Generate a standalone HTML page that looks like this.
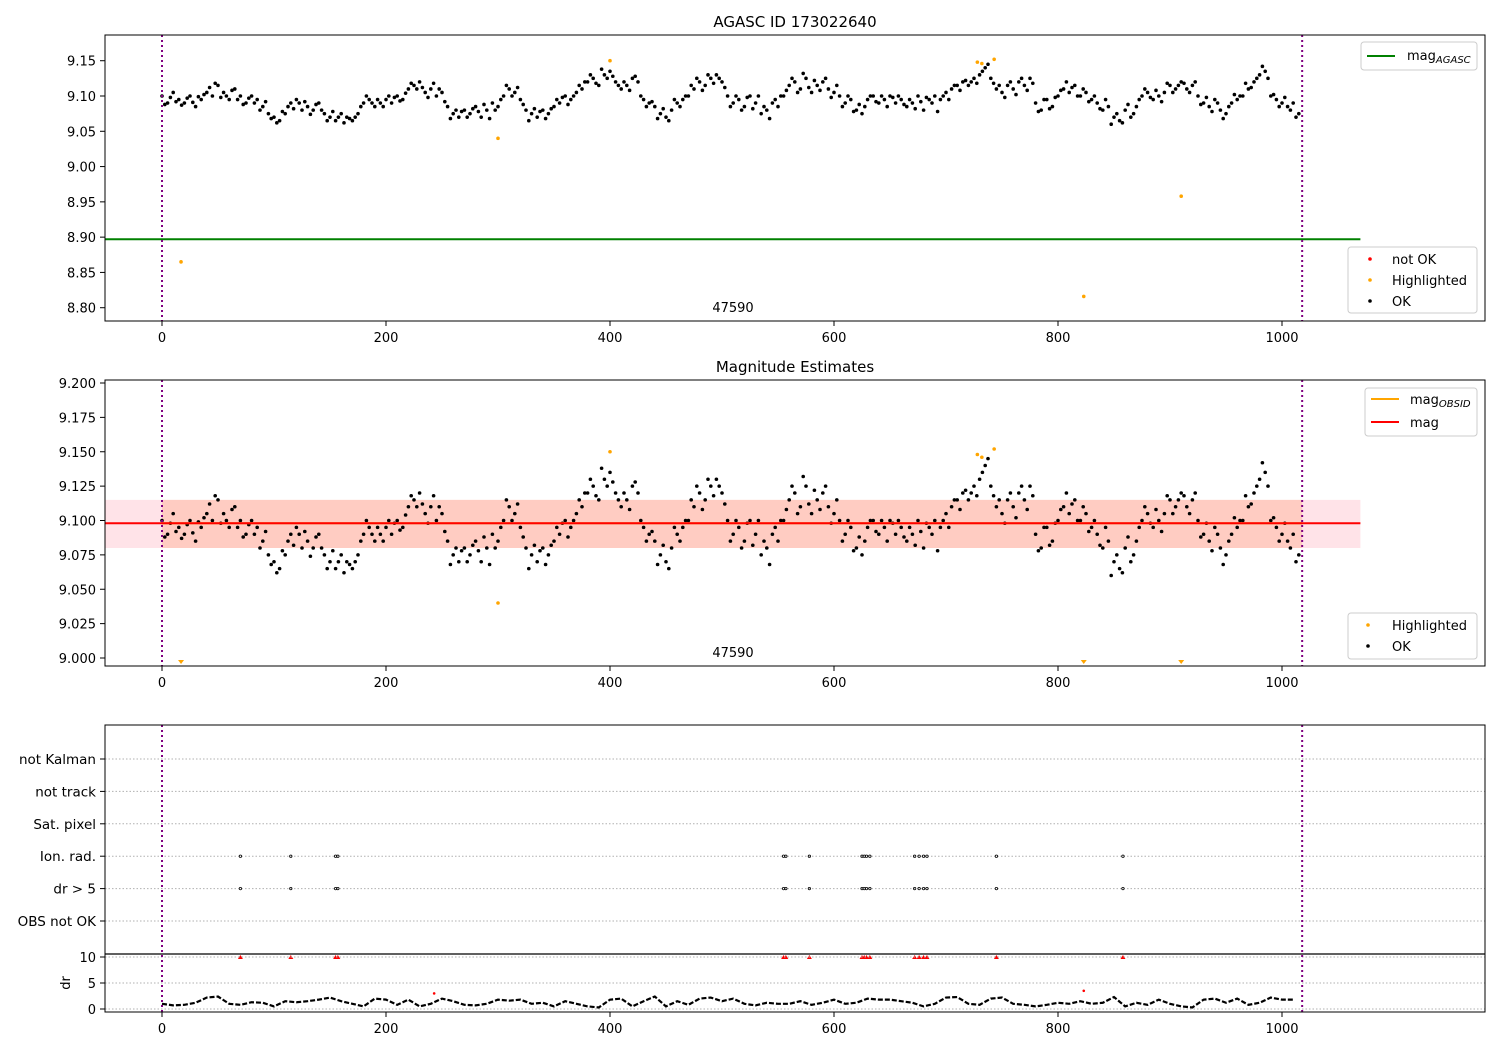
<!DOCTYPE html>
<html><head><meta charset="utf-8">
<style>
body{margin:0;background:#fff;}
svg{display:block;font-family:"DejaVu Sans","Liberation Sans",sans-serif;}
text{fill:#000;}
</style></head>
<body>
<svg id="chart" width="1500" height="1050" viewBox="0 0 1500 1050" xmlns="http://www.w3.org/2000/svg"></svg>
<script>
const magT0 = 0, magStep = 5;
const magValues = [9.10,9.09,9.105,9.095,9.09,9.10,9.085,9.095,9.105,9.10,9.115,9.105,9.095,9.11,9.10,9.09,9.10,9.095,9.085,9.075,9.07,9.065,9.075,9.09,9.095,9.08,9.085,9.08,9.09,9.075,9.07,9.065,9.075,9.07,9.065,9.075,9.09,9.095,9.085,9.09,9.095,9.09,9.10,9.095,9.11,9.115,9.12,9.105,9.11,9.10,9.105,9.085,9.075,9.07,9.08,9.075,9.085,9.07,9.08,9.09,9.085,9.10,9.11,9.105,9.095,9.08,9.075,9.07,9.08,9.075,9.085,9.09,9.10,9.095,9.105,9.11,9.12,9.125,9.115,9.13,9.135,9.12,9.11,9.115,9.125,9.12,9.095,9.09,9.085,9.075,9.07,9.08,9.09,9.095,9.10,9.11,9.12,9.115,9.125,9.13,9.12,9.10,9.09,9.095,9.085,9.10,9.09,9.075,9.08,9.09,9.085,9.10,9.115,9.12,9.11,9.125,9.105,9.115,9.12,9.11,9.105,9.10,9.09,9.095,9.08,9.075,9.095,9.10,9.09,9.095,9.10,9.09,9.095,9.085,9.09,9.10,9.08,9.095,9.10,9.095,9.105,9.11,9.115,9.12,9.115,9.125,9.13,9.14,9.125,9.11,9.105,9.115,9.11,9.12,9.115,9.125,9.09,9.08,9.095,9.085,9.10,9.11,9.105,9.115,9.10,9.105,9.095,9.09,9.08,9.085,9.07,9.065,9.08,9.07,9.085,9.10,9.105,9.095,9.10,9.105,9.115,9.11,9.12,9.11,9.115,9.10,9.09,9.085,9.095,9.08,9.075,9.09,9.095,9.10,9.11,9.12,9.13,9.135,9.10,9.095,9.09,9.085,9.09,9.075];
const magT0b = 2.5;
const magValuesB = [9.088,9.098,9.092,9.087,9.097,9.091,9.099,9.102,9.112,9.118,9.098,9.1,9.108,9.095,9.088,9.097,9.09,9.08,9.092,9.068,9.062,9.078,9.085,9.082,9.09,9.092,9.074,9.088,9.08,9.065,9.078,9.07,9.062,9.068,9.07,9.085,9.1,9.09,9.095,9.085,9.1,9.098,9.093,9.104,9.118,9.11,9.112,9.098,9.118,9.11,9.092,9.068,9.08,9.078,9.07,9.082,9.078,9.088,9.068,9.08,9.095,9.115,9.1,9.112,9.088,9.065,9.082,9.078,9.068,9.082,9.095,9.098,9.088,9.1,9.115,9.12,9.13,9.118,9.138,9.125,9.128,9.115,9.12,9.108,9.128,9.1,9.085,9.092,9.068,9.082,9.065,9.095,9.085,9.1,9.115,9.125,9.108,9.13,9.118,9.125,9.112,9.085,9.1,9.08,9.098,9.082,9.1,9.085,9.068,9.095,9.1,9.108,9.125,9.105,9.132,9.112,9.122,9.108,9.125,9.098,9.115,9.085,9.1,9.078,9.088,9.085,9.1,9.092,9.1,9.085,9.098,9.1,9.088,9.095,9.082,9.092,9.098,9.09,9.078,9.1,9.095,9.115,9.108,9.122,9.12,9.118,9.135,9.145,9.118,9.115,9.098,9.12,9.102,9.125,9.108,9.118,9.078,9.095,9.082,9.098,9.108,9.12,9.112,9.1,9.11,9.092,9.1,9.082,9.095,9.06,9.075,9.062,9.088,9.075,9.095,9.11,9.098,9.108,9.092,9.118,9.105,9.115,9.118,9.105,9.12,9.088,9.098,9.078,9.09,9.068,9.085,9.102,9.1,9.118,9.112,9.125,9.142,9.125,9.102,9.085,9.098,9.08,9.07];
const hiT = [17,300,400,728,732,743,823,910];
const hiMag = [8.865,9.04,9.15,9.148,9.146,9.152,8.816,8.958];
const magAgasc = 8.897;
const magMean = 9.098, bandLo = 9.08, bandHi = 9.115;
const obsStart = 0, obsEnd = 1018, lineEnd = 1070;
const drT0 = 0, drStep = 10;
const drValues = [1,0.7,0.8,1.2,2.2,2.4,1,0.8,1.3,1.2,0.5,1.5,1.3,1.5,1.8,2.2,1.5,1,0.5,2,1.8,0.8,1.8,0.5,1,2,1.5,0.8,0.7,1,1.8,1.6,1.8,1,1.2,0.5,1.5,1,0.5,0.3,1.8,2,0.5,1.5,2.4,0.5,1.5,0.8,2,2.2,1.5,2,1,0.7,1.2,1,1,1.5,0.8,1.2,1.8,1,1.2,2,1.8,1.8,1.5,1.2,0.5,1,2.2,2.3,1,0.8,2,2.2,1,0.8,0.5,0.8,1.2,1,1.5,1,1.2,2.3,0.5,1.2,0.8,1.8,1,0.5,0.3,1.8,2,1.2,2,0.8,1.2,2.2,1.8,1.8];
const flagT = [70,115,155,157,555,557,578,625,627,629,632,672,676,680,683,745,858];
const drRedT = [243,823];
const drRedV = [3,3.5];
const rowLabels = ["not Kalman","not track","Sat. pixel","Ion. rad.","dr > 5","OBS not OK"];
const xTicks = [0,200,400,600,800,1000];
const y1Ticks = ["9.15","9.10","9.05","9.00","8.95","8.90","8.85","8.80"];
const y2Ticks = ["9.200","9.175","9.150","9.125","9.100","9.075","9.050","9.025","9.000"];
const drTicks = [0,5,10];

const svg = document.getElementById('chart');
const NS = 'http://www.w3.org/2000/svg';
function mk(tag, attrs, parent){const e=document.createElementNS(NS,tag);for(const k in attrs)e.setAttribute(k,attrs[k]);(parent||svg).appendChild(e);return e;}
function txt(s, attrs, parent){const e=mk('text',attrs,parent);e.textContent=s;return e;}
const xs = t => 162 + 1.12*t;
const L=105,R=1485;
const y1 = m => 96 - (m-9.10)*705.7;
const y2 = m => 658 - (m-9.0)*1375;
const yRow = i => 759 + i*32.4;
const yDr = v => 1009 - v*5.2;

function xAxis(bottom, name){
  const g=mk('g',{});
  
  
  xTicks.forEach(t=>{mk('line',{x1:xs(t),x2:xs(t),y1:bottom,y2:bottom+5,stroke:'#000'},g);
    txt(String(t),{x:xs(t),y:bottom+21,'text-anchor':'middle','font-size':13},g);});
}
function frame(top,bottom,name){const r=mk('rect',{x:L,y:top,width:R-L,height:bottom-top,fill:'none',stroke:'#000','stroke-width':1});}
function vlines(top,bottom){[obsStart,obsEnd].forEach(t=>{const l=mk('line',{x1:xs(t),x2:xs(t),y1:top,y2:bottom,stroke:'#800080','stroke-width':2,'stroke-dasharray':'2,3'});});}
function plotMag(g, yf){
  magValues.forEach((m,i)=>{mk('circle',{cx:xs(magT0+i*magStep),cy:yf(m),r:1.8,fill:'#000'},g);});
  magValuesB.forEach((m,i)=>{mk('circle',{cx:xs(magT0b+i*magStep),cy:yf(m),r:1.8,fill:'#000'},g);});
}

// Panel 1
txt('AGASC ID 173022640',{x:795,y:27,'text-anchor':'middle','font-size':15});
let g1=mk('g',{});  
const ag=mk('line',{x1:L,x2:xs(lineEnd),y1:y1(magAgasc),y2:y1(magAgasc),stroke:'#008000','stroke-width':2});


plotMag(g1,y1);
hiT.forEach((t,i)=>{mk('circle',{cx:xs(t),cy:y1(hiMag[i]),r:1.8,fill:'#ffa500'},g1);});
vlines(35,321);
frame(35,321,'panel1-frame');
y1Ticks.forEach(s=>{const y=y1(parseFloat(s));mk('line',{x1:L-5,x2:L,y1:y,y2:y,stroke:'#000'});txt(s,{x:L-9,y:y+5,'text-anchor':'end','font-size':13});});
xAxis(321,'panel1-x-axis');
txt('47590',{x:733,y:312,'text-anchor':'middle','font-size':13});

// Panel 2
txt('Magnitude Estimates',{x:795,y:372,'text-anchor':'middle','font-size':15});
const b1=mk('rect',{x:L,y:y2(bandHi),width:xs(lineEnd)-L,height:y2(bandLo)-y2(bandHi),fill:'#ffc0cb',opacity:0.45});
 
const b2=mk('rect',{x:xs(obsStart),y:y2(bandHi),width:xs(obsEnd)-xs(obsStart),height:y2(bandLo)-y2(bandHi),fill:'#ffa07a',opacity:0.35});
 
let g2=mk('g',{});  
plotMag(g2,y2);
hiT.forEach((t,i)=>{const m=hiMag[i];if(m>=8.995)mk('circle',{cx:xs(t),cy:y2(m),r:1.8,fill:'#ffa500'},g2);else{const x=xs(t),y=664;mk('path',{d:`M${x-3},${y-4}L${x+3},${y-4}L${x},${y}Z`,fill:'#ffa500'},g2);}});
mk('line',{x1:xs(obsStart),x2:xs(obsEnd),y1:y2(magMean),y2:y2(magMean),stroke:'#ffa500','stroke-width':2});
const ml=mk('line',{x1:L,x2:xs(lineEnd),y1:y2(magMean),y2:y2(magMean),stroke:'#ff0000','stroke-width':2});


vlines(380,666);
frame(380,666,'panel2-frame');
y2Ticks.forEach(s=>{const y=y2(parseFloat(s));mk('line',{x1:L-5,x2:L,y1:y,y2:y,stroke:'#000'});txt(s,{x:L-9,y:y+5,'text-anchor':'end','font-size':13});});
xAxis(666,'panel2-x-axis');
txt('47590',{x:733,y:657,'text-anchor':'middle','font-size':13});

// Panel 3
rowLabels.forEach((s,i)=>{const y=yRow(i);mk('line',{x1:L,x2:R,y1:y,y2:y,stroke:'#b0b0b0','stroke-dasharray':'1.5,2'});mk('line',{x1:L-5,x2:L,y1:y,y2:y,stroke:'#000'});const t=txt(s,{x:L-9,y:y+5,'text-anchor':'end','font-size':13.5});});
let g3=mk('g',{});  
flagT.forEach(t=>{[3,4].forEach(i=>mk('circle',{cx:xs(t),cy:yRow(i),r:1.2,fill:'none',stroke:'#000','stroke-width':0.8},g3));
  const x=xs(t),y=yDr(10);mk('path',{d:`M${x-2.5},${y+2}L${x+2.5},${y+2}L${x},${y-2}Z`,fill:'#ff0000'},g3);});
drTicks.forEach(v=>{const y=yDr(v);mk('line',{x1:L,x2:R,y1:y,y2:y,stroke:'#b0b0b0','stroke-dasharray':'1.5,2'});mk('line',{x1:L-5,x2:L,y1:y,y2:y,stroke:'#000'});txt(String(v),{x:L-9,y:y+5,'text-anchor':'end','font-size':13});});
let g4=mk('g',{});  
const pts=drValues.map((v,i)=>xs(drT0+i*drStep)+','+yDr(v)).join(' ');
mk('polyline',{points:pts,fill:'none',stroke:'#000','stroke-width':2.2,'stroke-dasharray':'5,2'},g4);
drRedT.forEach((t,i)=>mk('circle',{cx:xs(t),cy:yDr(drRedV[i]),r:1.3,fill:'#ff0000'},g4));
vlines(725,1012);
frame(725,1012,'panel3-frame');
mk('line',{x1:L,x2:R,y1:954,y2:954,stroke:'#000','stroke-width':1.2});
const dl=txt('dr',{x:0,y:0,'text-anchor':'middle','font-size':13,transform:'translate(70,983) rotate(-90)'});

xAxis(1012,'panel3-x-axis');

// Legends
function legendBox(x,y,w,h,name){const r=mk('rect',{x:x,y:y,width:w,height:h,rx:3,fill:'#fff',stroke:'#ccc','fill-opacity':0.85});}
legendBox(1361,42,116,28,'legend-agasc');
mk('line',{x1:1367,x2:1395,y1:56,y2:56,stroke:'#008000','stroke-width':2});
const lt=txt('mag',{x:1407,y:60,'font-size':13}); const ts=mk('tspan',{'font-size':10,'font-style':'italic',dy:3},lt); ts.textContent='AGASC';
legendBox(1348,247,129,66,'legend-status');
[['not OK','#ff0000',259],['Highlighted','#ffa500',280],['OK','#000',301]].forEach(a=>{mk('circle',{cx:1370,cy:a[2],r:1.8,fill:a[1]});txt(a[0],{x:1392,y:a[2]+5,'font-size':13});});
legendBox(1365,388,112,48,'legend-mag');
mk('line',{x1:1371,x2:1399,y1:399,y2:399,stroke:'#ffa500','stroke-width':2});
const lt2=txt('mag',{x:1410,y:404,'font-size':13}); const ts2=mk('tspan',{'font-size':10,'font-style':'italic',dy:3},lt2); ts2.textContent='OBSID';
mk('line',{x1:1371,x2:1399,y1:422,y2:422,stroke:'#ff0000','stroke-width':2});
txt('mag',{x:1410,y:427,'font-size':13});
legendBox(1348,613,129,46,'legend-points');
[['Highlighted','#ffa500',625],['OK','#000',646]].forEach(a=>{mk('circle',{cx:1368,cy:a[2],r:1.8,fill:a[1]});txt(a[0],{x:1392,y:a[2]+5,'font-size':13});});
</script>
</body></html>
